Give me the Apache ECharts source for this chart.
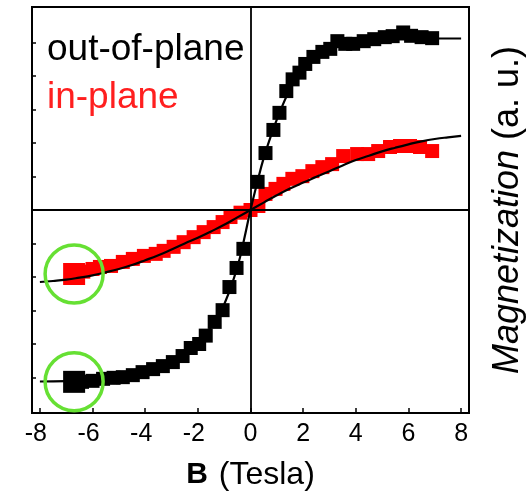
<!DOCTYPE html>
<html>
<head>
<meta charset="utf-8">
<script src="https://cdn.jsdelivr.net/npm/echarts@6/dist/echarts.min.js"></script>
<style>
  html, body { margin: 0; padding: 0; background: #fff; }
  #chart { width: 529px; height: 495px; }
</style>
</head>
<body>
<div id="chart"></div>
<script>
// Magnetization vs applied field B, two sample orientations.
const xTicks = [-8, -6, -4, -2, 0, 2, 4, 6, 8];
const yTicks = [-5, -4, -3, -2, -1, 0, 1, 2, 3, 4, 5];

// out-of-plane measurement: [B (T), M (a.u.)]
const outOfPlane = [
  [-6.7, -5.13], [-6.4, -5.13], [-6.0, -5.1], [-5.6, -5.04], [-5.2, -5.01],
  [-4.85, -4.99], [-4.47, -4.93], [-4.1, -4.84], [-3.7, -4.75], [-3.33, -4.66],
  [-2.95, -4.54], [-2.58, -4.36], [-2.27, -4.12], [-1.95, -4.0], [-1.7, -3.75],
  [-1.36, -3.34], [-1.06, -2.99], [-0.8, -2.3], [-0.53, -1.73], [-0.27, -1.16],
  [0.27, 0.84], [0.57, 1.7], [0.87, 2.39], [1.1, 2.9], [1.36, 3.55],
  [1.6, 3.9], [1.86, 4.1], [2.08, 4.36], [2.39, 4.57], [2.73, 4.72],
  [3.03, 4.81], [3.3, 5.04], [3.6, 4.96], [3.9, 4.96], [4.3, 5.04],
  [4.7, 5.1], [5.1, 5.16], [5.4, 5.19], [5.8, 5.3], [6.1, 5.2],
  [6.5, 5.16], [6.9, 5.13]
];

// in-plane measurement: [B (T), M (a.u.)]
const inPlane = [
  [-6.7, -1.91], [-6.35, -1.84], [-6.0, -1.76], [-5.72, -1.7], [-5.3, -1.67],
  [-4.85, -1.55], [-4.47, -1.46], [-4.05, -1.37], [-3.6, -1.31], [-3.3, -1.22],
  [-2.92, -1.1], [-2.54, -0.96], [-2.16, -0.81], [-1.78, -0.66], [-1.4, -0.51],
  [-1.06, -0.36], [-0.76, -0.21], [-0.38, -0.08], [0, 0], [0.3, 0.12],
  [0.57, 0.48], [0.95, 0.63], [1.25, 0.78], [1.59, 0.93], [1.97, 1.01],
  [2.35, 1.16], [2.73, 1.28], [3.1, 1.37], [3.52, 1.61], [4.05, 1.67],
  [4.47, 1.67], [4.85, 1.76], [5.3, 1.88], [5.68, 1.91], [6.06, 1.91],
  [6.44, 1.88], [6.9, 1.76]
];

// fitted curves
const outOfPlaneFit = [
  [-8, -5.12], [-7, -5.11], [-6, -5.08], [-5, -5.0], [-4, -4.85], [-3.5, -4.72],
  [-3, -4.52], [-2.5, -4.3], [-2, -3.98], [-1.5, -3.5], [-1, -2.82], [-0.5, -1.7],
  [-0.25, -0.9], [0, 0], [0.25, 0.8], [0.5, 1.55], [0.75, 2.15], [1, 2.7],
  [1.5, 3.6], [2, 4.2], [2.5, 4.55], [3, 4.78], [3.5, 4.92], [4, 5.0],
  [5, 5.07], [6, 5.1], [7, 5.12], [8, 5.12]
];
const inPlaneFit = [
  [-8, -2.15], [-7.5, -2.12], [-7, -2.08], [-6.5, -2.02], [-6, -1.95], [-5.5, -1.86],
  [-5, -1.76], [-4.5, -1.64], [-4, -1.5], [-3.5, -1.35], [-3, -1.18], [-2.5, -1.0],
  [-2, -0.83], [-1.5, -0.64], [-1, -0.44], [-0.5, -0.22], [0, 0], [0.5, 0.22],
  [1, 0.44], [1.5, 0.64], [2, 0.82], [2.5, 0.99], [3, 1.16], [3.5, 1.33],
  [4, 1.49], [4.5, 1.62], [5, 1.75], [5.5, 1.86], [6, 1.96], [6.5, 2.05],
  [7, 2.12], [7.5, 2.17], [8, 2.21]
];

// highlighted low-field points
const highlighted = [[-6.7, -5.13], [-6.7, -1.91]];

const FONT = 'Liberation Sans, Arial, Helvetica, sans-serif';

const withBigFirst = (arr, size) => arr.map((p, i) =>
  i === 0 ? { value: p, symbolSize: size } : p);

const chart = echarts.init(document.getElementById('chart'), null, { renderer: 'canvas' });
chart.setOption({
  animation: false,
  backgroundColor: '#fff',
  textStyle: { fontFamily: FONT },
  grid: {
    left: 32, right: 60, top: 7, bottom: 82,
    outerBoundsMode: 'none', containLabel: false,
    show: true, borderColor: '#000', borderWidth: 2, backgroundColor: 'transparent'
  },
  legend: {
    left: 37, top: 26, orient: 'vertical', itemGap: 11,
    icon: 'none', itemWidth: 0, itemHeight: 0,
    selectedMode: false,
    textStyle: { fontSize: 37, fontFamily: FONT },
    data: [
      { name: 'out-of-plane', textStyle: { color: '#000' } },
      { name: 'in-plane', textStyle: { color: '#ff1f1f' } }
    ]
  },
  xAxis: {
    type: 'value', min: -8.3, max: 8.3,
    splitLine: { show: false },
    axisLine: { onZero: false, lineStyle: { color: '#000', width: 2 } },
    axisTick: { inside: true, length: 5, customValues: xTicks, lineStyle: { color: '#000', width: 1.5 } },
    axisLabel: {
      customValues: xTicks, margin: 9, color: '#000', fontSize: 25, fontFamily: FONT,
      formatter: v => v < 0 ? '{n|' + v + '}' : String(v),
      rich: { n: { fontSize: 25, fontFamily: FONT, color: '#000', padding: [0, 8, 0, 0] } }
    },
    name: '{b|B}{t| (Tesla)}',
    nameLocation: 'middle', nameGap: 46,
    nameTextStyle: {
      rich: {
        b: { fontSize: 30, fontWeight: 'bold', color: '#000', fontFamily: FONT, padding: [0, 2, 0, 0] },
        t: { fontSize: 32, color: '#000', fontFamily: FONT }
      }
    }
  },
  yAxis: [
    {
      type: 'value', min: -6.06, max: 6.06,
      splitLine: { show: false },
      axisLine: { onZero: false, lineStyle: { color: '#000', width: 2 } },
      axisTick: { inside: true, length: 4, customValues: yTicks, lineStyle: { color: '#000', width: 1.5 } },
      axisLabel: { show: false }
    },
    {
      type: 'value', min: -6.06, max: 6.06, position: 'right',
      splitLine: { show: false },
      axisLine: { show: false }, axisTick: { show: false }, axisLabel: { show: false },
      name: '{i|Magnetization}{n| (a. u.)}',
      nameLocation: 'middle', nameRotate: 90, nameGap: 21,
      nameTextStyle: {
        rich: {
          i: { fontSize: 36, fontStyle: 'italic', color: '#000', fontFamily: FONT },
          n: { fontSize: 36, color: '#000', fontFamily: FONT }
        }
      }
    }
  ],
  series: [
    {
      name: 'in-plane', type: 'scatter', symbol: 'rect', symbolSize: 14,
      itemStyle: { color: '#ff0000', opacity: 1 },
      data: withBigFirst(inPlane, 22), z: 2,
      markLine: {
        silent: true, symbol: 'none', label: { show: false },
        lineStyle: { color: '#000', width: 1.8, type: 'solid' },
        data: [{ xAxis: 0 }, { yAxis: 0 }]
      }
    },
    {
      name: 'out-of-plane', type: 'scatter', symbol: 'rect', symbolSize: 14,
      itemStyle: { color: '#000', opacity: 1 },
      data: withBigFirst(outOfPlane, 22), z: 3
    },
    {
      name: 'in-plane fit', type: 'line', data: inPlaneFit, smooth: true, showSymbol: false,
      lineStyle: { color: '#000', width: 2.2 }, z: 4
    },
    {
      name: 'out-of-plane fit', type: 'line', data: outOfPlaneFit, smooth: true, showSymbol: false,
      lineStyle: { color: '#000', width: 2.2 }, z: 4
    },
    {
      name: 'highlight', type: 'scatter', symbol: 'circle', symbolSize: 58,
      itemStyle: { color: 'rgba(0,0,0,0)', borderColor: '#66e033', borderWidth: 3.5, opacity: 1 },
      data: highlighted, z: 5
    }
  ]
});
</script>
</body>
</html>
